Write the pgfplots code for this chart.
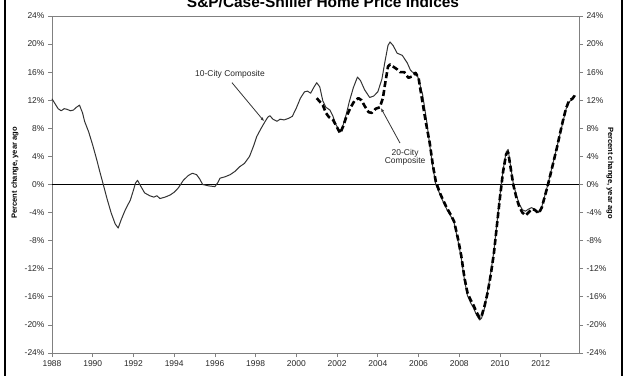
\documentclass[border=0pt]{standalone}
\usepackage{pgfplots}
\pgfplotsset{compat=1.18}
\usepackage{fontspec}
\setmainfont{Liberation Sans}
\usetikzlibrary{arrows.meta}

\pgfplotsset{
  ticklbl/.style={font=\fontsize{8.5}{10}\selectfont, text=black!85},
}

\begin{document}
\begin{tikzpicture}
\useasboundingbox (0bp,0bp) rectangle (627bp,376bp);
\node[font=\bfseries\fontsize{15.5}{18}\selectfont, anchor=base] at (323bp,368bp) {S\&P/Case-Shiller Home Price Indices};

\begin{axis}[
  at={(52bp,23bp)}, anchor=south west,
  scale only axis, width=527bp, height=337bp,
  xmin=1988, xmax=2013.88, ymin=-24, ymax=24,
  axis line style={draw=black!50, line width=0.8bp},
  tick style={draw=black!50, line width=0.8bp},
  major tick length=4bp, tick align=outside,
  xtick={1988,1990,1992,1994,1996,1998,2000,2002,2004,2006,2008,2010,2012},
  xticklabels={1988,1990,1992,1994,1996,1998,2000,2002,2004,2006,2008,2010,2012},
  ytick={-24,-20,-16,-12,-8,-4,0,4,8,12,16,20,24},
  yticklabels={-24\%,-20\%,-16\%,-12\%,-8\%,-4\%,0\%,4\%,8\%,12\%,16\%,20\%,24\%},
  xtick pos=bottom, ytick pos=left,
  tick label style={ticklbl},
  clip=false,
]
\draw[black, line width=1bp] (axis cs:1988,0) -- (axis cs:2013.88,0);

% 10-City Composite
\addplot[black!80, line width=1bp, line join=round, mark=none] coordinates {
(1988.00,12.2) (1988.15,11.5) (1988.3,10.8) (1988.45,10.5) (1988.6,10.8) (1988.75,10.7) (1988.9,10.5)
(1989.05,10.6) (1989.2,11.0) (1989.35,11.3) (1989.5,10.2) (1989.6,9.0) (1989.8,7.5)
(1990.0,5.6) (1990.2,3.5) (1990.35,1.8) (1990.5,0.2) (1990.7,-2.0) (1990.9,-4.0)
(1991.1,-5.6) (1991.25,-6.2) (1991.4,-5.0) (1991.6,-3.6) (1991.85,-2.2)
(1992.0,-0.8) (1992.1,0.2) (1992.2,0.6) (1992.35,-0.2) (1992.55,-1.2) (1992.8,-1.6)
(1993.0,-1.8) (1993.15,-1.6) (1993.3,-2.0) (1993.55,-1.8) (1993.8,-1.5)
(1994.0,-1.1) (1994.2,-0.5) (1994.45,0.6) (1994.7,1.3) (1994.9,1.6)
(1995.1,1.4) (1995.25,0.8) (1995.4,0.0) (1995.7,-0.2)
(1996.0,-0.3) (1996.15,0.3) (1996.25,0.9) (1996.5,1.1) (1996.75,1.4)
(1997.0,1.9) (1997.2,2.5) (1997.45,3.0) (1997.7,4.0) (1997.9,5.5)
(1998.05,6.8) (1998.25,7.9) (1998.45,8.9) (1998.6,9.6) (1998.7,9.8) (1998.85,9.3)
(1999.05,9.0) (1999.2,9.3) (1999.4,9.2) (1999.6,9.4) (1999.8,9.7)
(2000.0,10.9) (2000.2,12.3) (2000.4,13.2) (2000.55,13.3) (2000.7,13.0) (2000.85,13.8)
(2001.0,14.5) (2001.15,13.9) (2001.3,11.9) (2001.45,11.0) (2001.65,10.6) (2001.8,9.7) (2001.95,8.5)
(2002.15,7.5) (2002.3,8.5) (2002.45,10.0) (2002.6,11.8) (2002.8,13.8)
(2003.0,15.3) (2003.15,14.8) (2003.35,13.5) (2003.6,12.4) (2003.8,12.6)
(2004.0,13.2) (2004.2,15.0) (2004.35,17.5) (2004.5,19.8) (2004.6,20.3) (2004.75,19.8) (2004.95,18.7)
(2005.2,18.4) (2005.45,17.3) (2005.6,16.3) (2005.7,16.0) (2005.9,15.9)
(2006.0,15.0) (2006.2,12.8) (2006.4,9.0) (2006.55,5.6) (2006.7,2.5) (2006.85,0.0)
(2007.05,-1.4) (2007.2,-2.4) (2007.4,-3.6) (2007.6,-4.6) (2007.75,-5.5) (2007.95,-8.2)
(2008.1,-10.5) (2008.25,-13.5) (2008.4,-15.8) (2008.55,-16.8) (2008.7,-17.6) (2008.85,-18.6)
(2009.0,-19.3) (2009.1,-19.0) (2009.25,-17.5) (2009.4,-15.0) (2009.55,-12.5) (2009.7,-9.5) (2009.85,-5.5)
(2010.0,-1.5) (2010.15,2.0) (2010.3,4.6) (2010.4,5.0) (2010.5,3.0) (2010.65,0.2) (2010.8,-1.5) (2010.95,-2.8)
(2011.1,-3.6) (2011.25,-3.8) (2011.4,-3.5) (2011.55,-3.3) (2011.7,-3.5) (2011.9,-4.0)
(2012.05,-3.2) (2012.2,-1.6) (2012.35,0.0) (2012.5,1.8) (2012.65,3.6) (2012.8,5.4) (2012.95,7.2)
(2013.1,9.0) (2013.25,10.8) (2013.4,11.8) (2013.55,12.1) (2013.7,12.7)
};

% 20-City Composite
\addplot[black, line width=2.6bp, dash pattern=on 6bp off 3bp, line join=round, mark=none] coordinates {
(2001.0,12.3) (2001.15,11.8) (2001.3,11.3) (2001.45,10.2) (2001.6,9.6) (2001.8,9.2) (2001.95,8.4)
(2002.15,7.3) (2002.3,8.3) (2002.45,9.6) (2002.65,10.9) (2002.85,11.9)
(2003.05,12.3) (2003.2,12.0) (2003.35,11.2) (2003.55,10.3) (2003.7,10.2) (2003.9,10.8)
(2004.1,11.0) (2004.25,12.3) (2004.35,14.2) (2004.5,16.8) (2004.6,17.1) (2004.75,16.8) (2004.95,16.4)
(2005.1,16.0) (2005.3,16.0) (2005.5,15.2) (2005.7,15.4) (2005.85,15.9)
(2006.0,15.2) (2006.15,12.5) (2006.35,9.0) (2006.55,5.9) (2006.7,2.8) (2006.85,0.4)
(2007.05,-1.2) (2007.2,-2.2) (2007.4,-3.4) (2007.6,-4.4) (2007.75,-5.3) (2007.95,-7.9)
(2008.1,-10.2) (2008.25,-13.2) (2008.4,-15.4) (2008.55,-16.4) (2008.7,-17.2) (2008.85,-18.2)
(2009.0,-19.0) (2009.1,-18.7) (2009.25,-17.2) (2009.4,-15.3) (2009.55,-12.8) (2009.7,-9.8) (2009.85,-5.8)
(2010.0,-1.8) (2010.15,1.8) (2010.3,4.3) (2010.4,4.6) (2010.5,2.8) (2010.65,0.0) (2010.8,-1.8) (2010.95,-3.2)
(2011.1,-4.0) (2011.25,-4.4) (2011.4,-4.0) (2011.55,-3.5) (2011.7,-3.6) (2011.9,-4.1)
(2012.05,-3.3) (2012.2,-1.7) (2012.35,-0.1) (2012.5,1.7) (2012.65,3.5) (2012.8,5.3) (2012.95,7.3)
(2013.1,9.2) (2013.25,10.9) (2013.4,12.0) (2013.55,12.2) (2013.7,12.8)
};

\node[font=\fontsize{8.5}{10}\selectfont, text=black!85] at (axis cs:1996.74,15.74) {10-City Composite};
\draw[black!80, line width=0.8bp, -{Latex[length=4bp,width=3bp]}] (axis cs:1996.84,14.5) -- (axis cs:1998.42,9.0);
\node[font=\fontsize{8.5}{10}\selectfont, text=black!85, align=center, inner sep=0pt] at (axis cs:2005.34,3.85) {20-City\\[-1.5bp]Composite};
\draw[black!80, line width=0.8bp, -{Latex[length=4bp,width=3bp]}] (axis cs:2005.09,5.9) -- (axis cs:2004.15,10.9);
\end{axis}

\begin{axis}[
  at={(52bp,23bp)}, anchor=south west,
  scale only axis, width=527bp, height=337bp,
  xmin=1988, xmax=2013.88, ymin=-24, ymax=24,
  axis x line=none, axis y line*=right,
  axis line style={draw=black!50, line width=0.8bp, -},
  tick style={draw=black!50, line width=0.8bp},
  major tick length=4bp, tick align=outside,
  ytick={-24,-20,-16,-12,-8,-4,0,4,8,12,16,20,24},
  yticklabels={-24\%,-20\%,-16\%,-12\%,-8\%,-4\%,0\%,4\%,8\%,12\%,16\%,20\%,24\%},
  yticklabel style={ticklbl, anchor=west},
]
\end{axis}

\node[font=\bfseries\fontsize{7.6}{9}\selectfont, rotate=90] at (15bp,203bp) {Percent change, year ago};
\node[font=\bfseries\fontsize{7.6}{9}\selectfont, rotate=-90] at (610bp,203bp) {Percent change, year ago};

\draw[black, line width=1.5bp] (5bp,-2bp) -- (5bp,378bp);
\draw[black, line width=1.5bp] (622bp,-2bp) -- (622bp,378bp);
\end{tikzpicture}
\end{document}
